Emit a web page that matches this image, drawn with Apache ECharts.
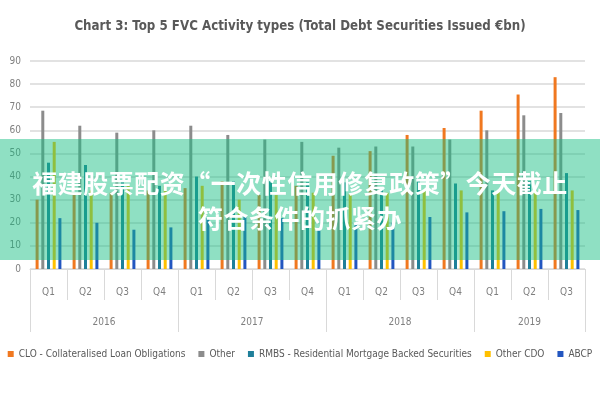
<!DOCTYPE html>
<html>
<head>
<meta charset="utf-8">
<script src="https://cdn.jsdelivr.net/npm/echarts@6/dist/echarts.min.js"></script>
<style>
  html, body { margin: 0; padding: 0; background: #fff; }
  #wrap { position: relative; width: 600px; height: 400px; }
  #main { width: 600px; height: 400px; }
  #banner {
    position: absolute; left: 0; top: 139px; width: 600px; height: 121px;
    background: rgba(20, 190, 130, 0.48);
    display: flex; flex-direction: column; align-items: center; justify-content: center;
    color: #fff; font-family: "Noto Sans CJK SC", sans-serif; font-weight: bold;
    font-size: 25px; line-height: 35px; text-align: center; letter-spacing: 0.5px;
  }
</style>
</head>
<body>
<div id="wrap">
  <div id="main"></div>
  <div id="banner"><div>福建股票配资“一次性信用修复政策”今天截止</div><div>符合条件的抓紧办</div></div>
</div>
<script>
// 数据
var quarters = ['Q1', 'Q2', 'Q3', 'Q4', 'Q1', 'Q2', 'Q3', 'Q4', 'Q1', 'Q2', 'Q3', 'Q4', 'Q1', 'Q2', 'Q3'];
var years = ['2016', '2017', '2018', '2019'];
var quartersPerYear = [4, 4, 4, 3];

var clo = [30, 32, 33, 34, 35, 38, 32, 36, 49, 51, 58, 61, 68.5, 75.5, 83];
var other = [68.5, 62, 59, 60, 62, 58, 56, 55, 52.5, 53, 53, 56, 60, 66.5, 67.5];
var rmbs = [46, 45, 38, 36, 40, 38, 38, 37.5, 37.5, 35, 38, 37, 34, 38, 41.5];
var otherCdo = [55, 34, 36, 36, 36, 30, 32, 33, 32.5, 33, 34, 34, 34, 34, 34];
var abcp = [22, 20, 17, 18, 22, 23, 22, 17, 20, 20, 22.5, 24.5, 25, 26, 25.5];

var narrow = "'DejaVu Sans Condensed', 'Liberation Sans Narrow', sans-serif";

// 年份轴：按半个季度划分的刻度点
var yearSlots = [];
var yearBounds = [0];
var pos = 0;
for (var i = 0; i <= quarters.length * 2; i++) yearSlots.push('');
years.forEach(function (y, k) {
  var n = quartersPerYear[k];
  yearSlots[pos + n] = y;
  pos += n * 2;
  yearBounds.push(pos);
});

var chart = echarts.init(document.getElementById('main'));

function bar(name, data, color) {
  return {
    name: name,
    type: 'bar',
    data: data,
    barWidth: 3,
    barGap: '90%',
    itemStyle: { color: color }
  };
}

var option = {
  animation: false,
  title: {
    text: 'Chart 3: Top 5 FVC Activity types (Total Debt Securities Issued €bn)',
    left: 'center',
    top: 15,
    textStyle: { fontFamily: narrow, fontSize: 13.2, fontWeight: 'bold', color: '#595959' }
  },
  legend: {
    bottom: 36,
    left: 'center',
    itemWidth: 6,
    itemHeight: 6,
    itemGap: 13,
    icon: 'rect',
    textStyle: { fontFamily: narrow, fontSize: 10, color: '#595959' }
  },
  grid: { left: 30, right: 15, top: 61, bottom: 131 },
  xAxis: [
    {
      type: 'category',
      data: quarters,
      position: 'bottom',
      axisLine: { lineStyle: { color: '#d9d9d9' } },
      axisTick: { show: true, interval: 0, length: 31, lineStyle: { color: '#d9d9d9' } },
      axisLabel: { margin: 18, color: '#7f7f7f', fontSize: 10, fontFamily: narrow }
    },
    {
      type: 'category',
      data: yearSlots,
      boundaryGap: false,
      position: 'bottom',
      axisLine: { show: false },
      axisTick: {
        show: true,
        length: 63,
        interval: function (idx) { return yearBounds.indexOf(idx) >= 0; },
        lineStyle: { color: '#d9d9d9' }
      },
      axisLabel: {
        margin: 48,
        color: '#7f7f7f',
        fontSize: 10,
        fontFamily: narrow,
        interval: function (idx, val) { return val !== ''; }
      },
      splitLine: { show: false }
    }
  ],
  yAxis: {
    type: 'value',
    min: 0,
    max: 90,
    interval: 10,
    axisLine: { show: false },
    axisTick: { show: false },
    axisLabel: { margin: 9, color: '#7f7f7f', fontSize: 10, fontFamily: narrow },
    splitLine: { lineStyle: { color: '#d9d9d9', width: 1.5 } }
  },
  series: [
    bar('CLO - Collateralised Loan Obligations', clo, '#f07820'),
    bar('Other', other, '#8c8c8c'),
    bar('RMBS - Residential Mortgage Backed Securities', rmbs, '#1f7f9a'),
    bar('Other CDO', otherCdo, '#ffc000'),
    bar('ABCP', abcp, '#2356c0')
  ]
};

chart.setOption(option);
</script>
</body>
</html>
